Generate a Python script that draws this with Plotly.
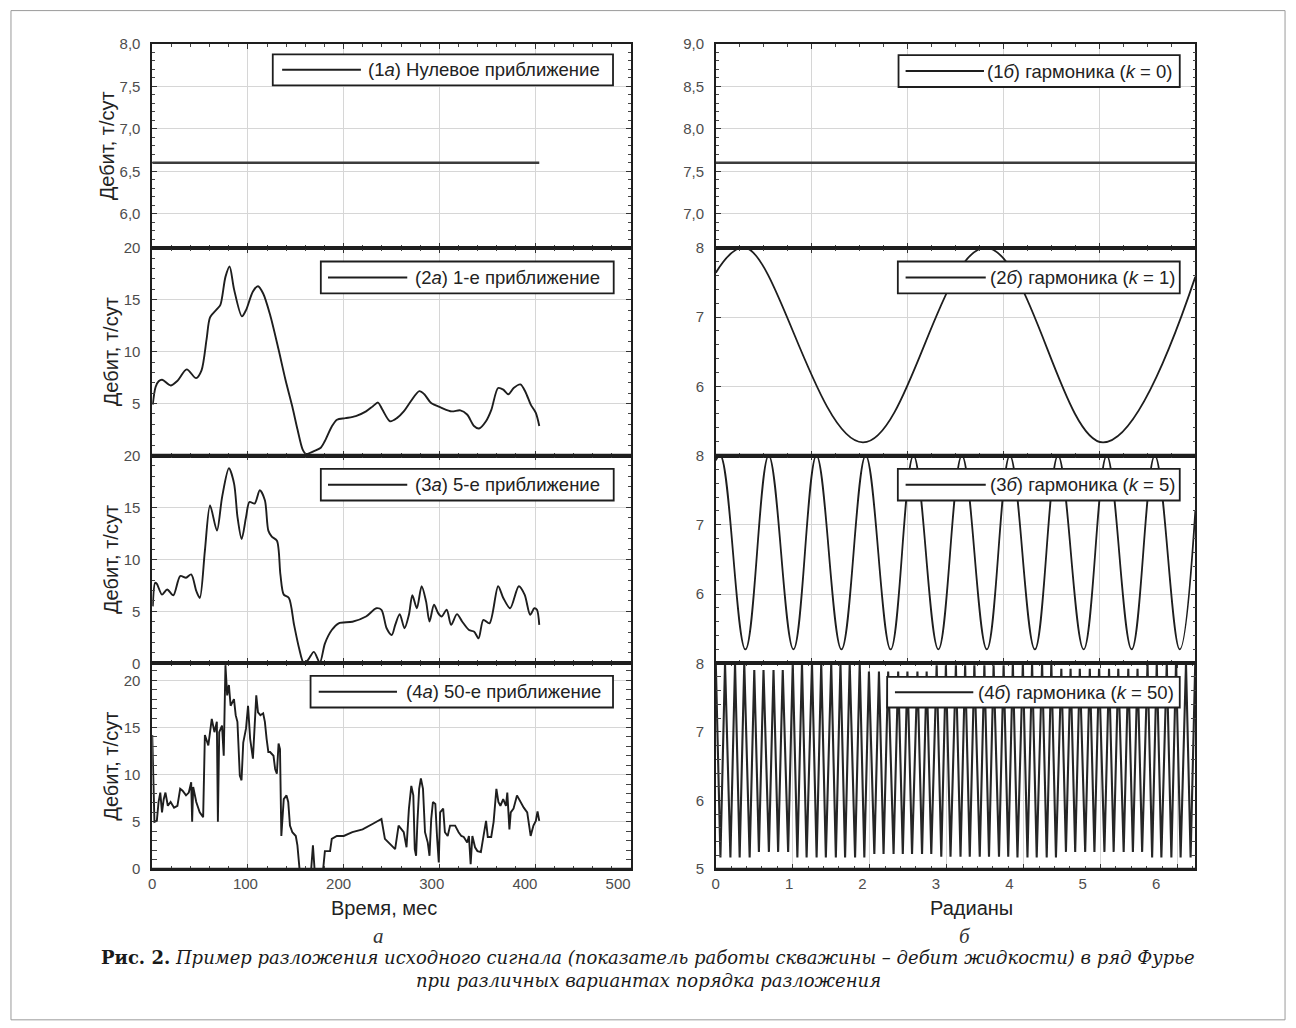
import plotly.graph_objects as go

# ---------------- data ----------------
# Left column: liquid rate (t/day) vs time (months) for successive Fourier approximations
zero_month = [0.0, 404.4]
zero_rate = [6.6, 6.6]

first_month = [0.5, 3.5, 6.7, 10.3, 19.2, 26.4, 36.0, 45.8, 51.5, 56.8,
               60.4, 67.6, 71.2, 76.5, 80.8, 85.5, 93.7, 98.0, 105.2, 110.5,
               115.9, 123.0, 132.0, 139.2, 146.4, 151.8, 157.1, 160.7, 169.7, 176.1,
               180.4, 187.6, 193.0, 201.9, 212.7, 223.4, 230.6, 235.9, 240.6, 248.5,
               255.6, 262.8, 270.0, 279.0, 284.3, 291.4, 302.2, 312.9, 321.9, 329.0,
               336.2, 341.5, 348.7, 354.3, 361.4, 366.8, 372.2, 377.6, 384.7, 390.1,
               395.5, 400.8, 404.4]
first_rate = [4.9, 6.6, 7.15, 7.3, 6.75, 7.2, 8.3, 7.45, 8.2, 11.2,
              13.3, 14.1, 14.5, 17.2, 18.2, 16.0, 13.4, 14.0, 15.8, 16.3,
              15.6, 13.6, 10.2, 7.3, 4.7, 2.5, 0.6, 0.15, 0.45, 0.75,
              1.4, 2.8, 3.45, 3.6, 3.8, 4.25, 4.75, 5.1, 4.4, 3.3,
              3.6, 4.25, 5.2, 6.2, 5.9, 5.05, 4.6, 4.25, 4.35, 3.95,
              2.85, 2.6, 3.3, 4.4, 6.5, 6.35, 5.9, 6.5, 6.85, 6.1,
              4.9, 4.1, 2.85]

fifth_month = [0.55, 3.06, 4.85, 10.2, 15.6, 22.05, 29.2, 35.3, 40.7, 46.1,
               49.7, 55.0, 60.4, 67.6, 73.0, 80.1, 85.5, 89.1, 93.4, 98.0,
               101.6, 107.0, 112.4, 117.7, 121.3, 124.9, 130.3, 133.9, 137.4, 142.8,
               148.2, 153.5, 158.2, 162.5, 168.9, 175.1, 180.4, 187.6, 194.8, 209.1,
               223.4, 234.1, 239.5, 244.9, 250.3, 253.9, 258.6, 263.6, 268.2, 271.8,
               276.5, 281.5, 286.1, 289.7, 294.4, 298.7, 302.3, 307.7, 312.3, 318.4,
               323.8, 331.0, 336.4, 341.0, 346.0, 352.4, 361.4, 366.8, 374.0, 383.0,
               389.1, 394.9, 399.2, 402.0, 404.4]
fifth_rate = [5.48, 7.75, 7.65, 6.61, 7.1, 6.55, 8.4, 8.23, 8.56, 6.94,
              6.29, 10.83, 15.2, 12.77, 16.0, 18.77, 17.3, 14.07, 11.96, 14.07,
              15.53, 15.37, 16.66, 15.69, 12.77, 12.19, 11.8, 8.56, 6.61, 6.29,
              3.7, 1.42, 0.05, 0.29, 1.1, 0.06, 1.9, 3.2, 3.85, 4.0,
              4.5, 5.3, 5.15, 3.37, 2.72, 3.7, 4.73, 3.37, 4.67, 6.55,
              5.3, 7.42, 5.96, 4.02, 5.64, 4.83, 4.5, 5.15, 3.7, 4.73,
              4.02, 3.2, 3.04, 2.4, 4.18, 3.85, 7.42, 6.29, 5.3, 7.42,
              6.61, 4.67, 5.3, 5.15, 3.7]

fifty_month = [0.0, 1.0, 2.3, 4.8, 6.6, 8.4, 10.2, 12.0, 13.8, 16.3,
               19.2, 22.8, 26.3, 29.2, 31.7, 35.3, 38.2, 40.7, 41.7, 42.8,
               46.0, 49.6, 53.2, 55.0, 58.6, 62.2, 65.0, 67.5, 68.6, 70.0,
               72.9, 74.7, 76.5, 78.3, 80.1, 81.9, 85.4, 87.2, 89.0, 91.5,
               93.3, 95.1, 98.0, 100.1, 102.3, 105.2, 107.0, 108.7, 110.5, 113.0,
               115.9, 117.7, 119.5, 121.3, 123.1, 126.7, 128.4, 130.2, 132.0, 133.5,
               134.9, 137.4, 140.3, 142.1, 143.9, 146.4, 150.0, 151.7, 153.9, 155.3,
               166.1, 167.9, 169.6, 178.6, 180.4, 185.8, 187.6, 192.9, 200.1, 209.1,
               219.8, 230.6, 239.5, 243.1, 248.5, 253.8, 257.4, 262.8, 265.7, 268.2,
               270.7, 272.8, 274.3, 275.7, 277.1, 278.9, 280.7, 282.9, 285.0, 287.9,
               289.7, 291.5, 293.3, 295.8, 297.6, 299.4, 300.8, 304.0, 305.8, 308.7,
               311.2, 316.5, 320.1, 323.0, 325.5, 329.1, 330.9, 332.7, 334.5, 337.3,
               339.8, 343.4, 346.0, 348.8, 350.6, 354.2, 356.7, 359.6, 361.7, 363.8,
               366.7, 369.6, 371.0, 373.2, 374.6, 377.5, 381.1, 384.7, 388.2, 391.8,
               395.4, 398.3, 400.8, 402.6, 404.4]
fifty_rate = [14.2, 8.5, 5.0, 5.1, 7.1, 8.1, 6.0, 7.4, 8.1, 6.7,
              7.1, 6.5, 6.7, 8.5, 8.3, 7.8, 8.1, 9.2, 5.0, 8.7,
              7.1, 6.0, 5.5, 14.2, 13.1, 15.9, 14.5, 15.6, 5.0, 14.5,
              15.2, 12.0, 21.6, 18.4, 19.5, 17.3, 18.0, 16.3, 15.6, 9.9,
              9.4, 13.4, 14.9, 17.3, 13.8, 11.7, 15.6, 18.4, 16.6, 16.3,
              16.5, 15.6, 13.8, 12.4, 12.4, 12.0, 10.6, 10.1, 13.3, 12.7,
              3.5, 7.4, 7.8, 7.1, 4.6, 3.9, 3.5, 2.5, 0.0, 0.0,
              0.0, 2.5, 0.0, 0.0, 1.9, 1.9, 3.2, 3.5, 3.5, 3.9,
              4.2, 4.8, 5.3, 3.2, 2.6, 2.1, 4.6, 3.9, 2.3, 6.4,
              8.8, 7.8, 2.1, 1.4, 5.0, 8.5, 9.6, 8.5, 3.9, 2.8,
              1.4, 5.3, 7.1, 6.9, 3.4, 0.7, 6.0, 6.4, 3.9, 3.5,
              4.6, 4.6, 3.9, 3.5, 3.4, 2.8, 3.5, 0.5, 3.5, 2.3,
              1.9, 1.8, 3.4, 5.1, 3.4, 3.4, 5.0, 8.5, 7.1, 6.7,
              7.4, 6.7, 8.1, 4.2, 6.0, 6.4, 7.8, 7.1, 6.5, 6.0,
              3.5, 4.6, 5.1, 6.1, 5.1]

month_ticks = [0, 100, 200, 300, 400, 500]
radian_ticks = [0, 1, 2, 3, 4, 5, 6]

# Right column: individual harmonics vs radians (extrema of each wave)
h0_rad = [0.0, 6.231]
h0_val = [7.6, 7.6]

h1_rad = [0.0, 0.385, 1.912, 3.508, 5.034, 6.231]
h1_val = [7.64, 8.0, 5.19, 8.0, 5.19, 7.58]

h5_peak_rad = [0.061, 0.687, 1.308, 1.948, 2.569, 3.198, 3.821, 4.447, 5.080, 5.705]
h5_peak_val = [8.0, 8.0, 8.0, 8.0, 8.0, 8.0, 8.0, 8.0, 8.0, 8.0]
h5_trough_rad = [0.385, 1.009, 1.633, 2.272, 2.892, 3.522, 4.146, 4.780, 5.404, 6.028]
h5_trough_val = [5.2, 5.2, 5.2, 5.2, 5.2, 5.2, 5.2, 5.2, 5.2, 5.2]
h5_edge_rad = [0.0, 6.231]
h5_edge_val = [7.93, 7.2]

h50_peak_rad = [0.00, 0.12, 0.25, 0.37, 0.50, 0.62, 0.75, 0.87, 1.00, 1.12,
                1.25, 1.37, 1.50, 1.62, 1.74, 1.87, 1.99, 2.12, 2.24, 2.37,
                2.49, 2.62, 2.74, 2.87, 2.99, 3.12, 3.24, 3.36, 3.49, 3.61,
                3.74, 3.86, 3.99, 4.11, 4.24, 4.36, 4.49, 4.61, 4.73, 4.86,
                4.98, 5.11, 5.23, 5.36, 5.48, 5.61, 5.73, 5.86, 5.98, 6.11,
                6.23]
h50_peak_val = [8.0, 8.0, 8.0, 8.0, 7.9, 7.9, 7.9, 7.9, 8.0, 8.0,
                8.0, 8.0, 8.0, 8.0, 8.0, 8.0, 7.88, 7.88, 7.88, 7.88,
                7.88, 7.88, 7.88, 7.97, 7.97, 7.97, 7.97, 7.97, 7.97, 7.97,
                7.97, 8.0, 8.0, 8.0, 8.0, 8.0, 7.92, 7.92, 7.92, 7.92,
                7.92, 7.92, 7.92, 7.92, 7.92, 8.0, 8.0, 8.0, 8.0, 8.0,
                8.0]
h50_trough_rad = [0.06, 0.19, 0.31, 0.44, 0.56, 0.69, 0.81, 0.94, 1.06, 1.18,
                  1.31, 1.43, 1.56, 1.68, 1.81, 1.93, 2.06, 2.18, 2.31, 2.43,
                  2.55, 2.68, 2.80, 2.93, 3.05, 3.18, 3.30, 3.43, 3.55, 3.68,
                  3.80, 3.92, 4.05, 4.17, 4.30, 4.42, 4.55, 4.67, 4.80, 4.92,
                  5.05, 5.17, 5.30, 5.42, 5.54, 5.67, 5.79, 5.92, 6.04, 6.17]
h50_trough_val = [5.17, 5.17, 5.17, 5.17, 5.25, 5.25, 5.25, 5.25, 5.17, 5.17,
                  5.17, 5.17, 5.17, 5.17, 5.17, 5.17, 5.22, 5.22, 5.22, 5.22,
                  5.22, 5.22, 5.22, 5.18, 5.18, 5.18, 5.18, 5.18, 5.18, 5.18,
                  5.18, 5.17, 5.17, 5.17, 5.17, 5.17, 5.25, 5.25, 5.25, 5.25,
                  5.25, 5.25, 5.25, 5.25, 5.25, 5.17, 5.17, 5.17, 5.17, 5.17]

legend_left = ["(1<i>а</i>) Нулевое приближение",
               "(2<i>а</i>) 1-е приближение",
               "(3<i>а</i>) 5-е приближение",
               "(4<i>а</i>) 50-е приближение"]
legend_right = ["(1<i>б</i>) гармоника (<i>k</i> = 0)",
                "(2<i>б</i>) гармоника (<i>k</i> = 1)",
                "(3<i>б</i>) гармоника (<i>k</i> = 5)",
                "(4<i>б</i>) гармоника (<i>k</i> = 50)"]


def interleave(a_x, a_y, b_x, b_y):
    xs, ys = [], []
    for i in range(len(a_x)):
        xs.append(a_x[i]); ys.append(a_y[i])
        if i < len(b_x):
            xs.append(b_x[i]); ys.append(b_y[i])
    return xs, ys


h5_x, h5_y = interleave(h5_peak_rad, h5_peak_val, h5_trough_rad, h5_trough_val)
h5_x = [h5_edge_rad[0]] + h5_x + [h5_edge_rad[1]]
h5_y = [h5_edge_val[0]] + h5_y + [h5_edge_val[1]]
h50_x, h50_y = interleave(h50_peak_rad, h50_peak_val, h50_trough_rad, h50_trough_val)

# ---------------- layout geometry ----------------
# Positions below are given in page pixels; fx/fy convert them to paper
# fractions, allowing for the page's top offset and vertical fit.
W, H = 1296, 1028
TOP_OFFSET, V_FIT, LEFT_OFFSET = 7.9, 0.9847, 2.0
ROW_TOP = [42.7, 247, 455, 663]
ROW_BOT = [247, 455, 663, 869]
COL_X = [(150.7, 630.7), (716, 1197)]


def fx(px):
    return (px - LEFT_OFFSET) / W


def fy(py):
    return 1 - ((py - TOP_OFFSET) / V_FIT) / H


INK = "#1e1e1e"
GRID = "#d6d6d6"
TICK_FONT = dict(family="Liberation Sans Narrow, Arial Narrow, Liberation Sans, Arial",
                 size=15, color="#4d4d4d")
SANS = "Liberation Sans, Arial, sans-serif"
SERIF = "DejaVu Serif, Liberation Serif, serif"

fig = go.Figure()

left_series = [
    (zero_month, zero_rate, "linear", 2.6, "#3c3c3c"),
    (first_month, first_rate, "spline", 1.9, INK),
    (fifth_month, fifth_rate, "spline", 1.9, INK),
    (fifty_month, fifty_rate, "linear", 1.9, INK),
]
right_series = [
    (h0_rad, h0_val, "linear", 2.6, "#3c3c3c"),
    (h1_rad, h1_val, "spline", 1.8, INK),
    (h5_x, h5_y, "spline", 1.8, INK),
    (h50_x, h50_y, "linear", 2.1, "#262626"),
]

for r, (xs, ys, shape, w, col) in enumerate(left_series):
    n = r + 1
    fig.add_trace(go.Scatter(x=xs, y=ys, mode="lines", name=legend_left[r],
                             line=dict(color=col, width=w, shape=shape, smoothing=0.8),
                             xaxis=f"x{n}", yaxis=f"y{n}", showlegend=False,
                             hoverinfo="skip"))
for r, (xs, ys, shape, w, col) in enumerate(right_series):
    n = r + 5
    fig.add_trace(go.Scatter(x=xs, y=ys, mode="lines", name=legend_right[r],
                             line=dict(color=col, width=w, shape=shape, smoothing=1.1),
                             xaxis=f"x{n}", yaxis=f"y{n}", showlegend=False,
                             hoverinfo="skip"))

# empty traces that carry the bottom label axes
fig.add_trace(go.Scatter(x=[], y=[], xaxis="x9", yaxis="y4", showlegend=False))
fig.add_trace(go.Scatter(x=[], y=[], xaxis="x10", yaxis="y8", showlegend=False))

layout = dict(width=W, height=H, autosize=False,
              margin=dict(l=0, r=0, t=0, b=0),
              paper_bgcolor="white", plot_bgcolor="white",
              separators=", ", showlegend=False,
              font=dict(family=SANS, color="#222222"))

base_axis = dict(showline=True, linewidth=1.6, linecolor=INK, mirror="allticks",
                 ticks="inside", ticklen=5, tickwidth=1, tickcolor="#333333",
                 showgrid=True, gridcolor=GRID, gridwidth=1, zeroline=False,
                 tickfont=TICK_FONT)

left_y = [
    dict(range=[5.6, 8.0], tickvals=[6.0, 6.5, 7.0, 7.5, 8.0], tickformat=".1f", minor_dtick=0.1),
    dict(range=[0, 20], tickvals=[5, 10, 15, 20], tickformat="d", minor_dtick=1),
    dict(range=[0, 20], tickvals=[0, 5, 10, 15, 20], tickformat="d", minor_dtick=1),
    dict(range=[0, 21.8], tickvals=[0, 5, 10, 15, 20], tickformat="d", minor_dtick=1),
]
right_y = [
    dict(range=[6.6, 9.0], tickvals=[7.0, 7.5, 8.0, 8.5, 9.0], tickformat=".1f", minor_dtick=0.1),
    dict(range=[5, 8], tickvals=[6, 7, 8], tickformat="d", minor_dtick=0.2),
    dict(range=[5, 8], tickvals=[6, 7, 8], tickformat="d", minor_dtick=0.2),
    dict(range=[5, 8], tickvals=[5, 6, 7, 8], tickformat="d", minor_dtick=0.2),
]

for c in range(2):
    x0, x1 = COL_X[c]
    for r in range(4):
        n = c * 4 + r + 1
        xa = dict(base_axis, domain=[fx(x0), fx(x1)], anchor=f"y{n}",
                  showticklabels=False)
        if c == 0:
            xa.update(range=[0, 500], tick0=0, dtick=100,
                      minor=dict(ticks="inside", ticklen=3, dtick=20, tickcolor="#444", showgrid=False))
        elif r < 3:
            xa.update(range=[0, 6.231], tick0=0, dtick=1.2462,
                      minor=dict(ticks="inside", ticklen=3, dtick=0.31155, tickcolor="#444", showgrid=False))
        else:
            xa.update(range=[0, 6.231], tick0=0, dtick=1,
                      minor=dict(ticks="inside", ticklen=3, dtick=0.2, tickcolor="#444", showgrid=False))
        layout[f"xaxis{n}"] = xa

        spec = (left_y if c == 0 else right_y)[r]
        ya = dict(base_axis, domain=[fy(ROW_BOT[r]), fy(ROW_TOP[r])], anchor=f"x{n}",
                  range=spec["range"], tickvals=spec["tickvals"], tickformat=spec["tickformat"],
                  ticklabelstandoff=7,
                  minor=dict(ticks="inside", ticklen=3, dtick=spec["minor_dtick"],
                             tickcolor="#444", showgrid=False))
        if c == 0:
            ya["title"] = dict(text="Дебит, т/сут", standoff=0,
                               font=dict(family=SANS, size=20, color="#222222"))
        layout[f"yaxis{n}"] = ya

label_axis = dict(showline=False, showgrid=False, zeroline=False, ticks="",
                  tickfont=TICK_FONT, side="bottom", ticklabelstandoff=4)
layout["xaxis9"] = dict(label_axis, overlaying="x4", anchor="y4",
                        domain=[fx(COL_X[0][0]), fx(COL_X[0][1])],
                        range=[0, 513.6], tickvals=month_ticks)
layout["xaxis10"] = dict(label_axis, overlaying="x8", anchor="y8",
                         domain=[fx(COL_X[1][0]), fx(COL_X[1][1])],
                         range=[0, 6.535], tickvals=radian_ticks)

shapes = []
annotations = []

# outer frame of the figure
shapes.append(dict(type="rect", xref="paper", yref="paper",
                   x0=fx(9), x1=fx(1287), y0=fy(1020), y1=fy(9.5),
                   line=dict(color="#9a9a9a", width=1), layer="below"))

# heavy separators between stacked panels
for c in range(2):
    x0, x1 = COL_X[c]
    for py in ROW_BOT[:3]:
        shapes.append(dict(type="line", xref="paper", yref="paper",
                           x0=fx(x0 - 1), x1=fx(x1 + 1), y0=fy(py), y1=fy(py),
                           line=dict(color=INK, width=3.5), layer="above"))
    shapes.append(dict(type="line", xref="paper", yref="paper",
                       x0=fx(x0 - 1), x1=fx(x1 + 1), y0=fy(ROW_BOT[3]), y1=fy(ROW_BOT[3]),
                       line=dict(color=INK, width=2.6), layer="above"))

# legend boxes: (box x0, box x1, box y0, box y1, sample x0, sample x1, text x)
legend_boxes = [
    (271.6, 612.9, 53.3, 84.3, 281, 360, 365),
    (319.8, 613.6, 260.7, 292.7, 327, 406.5, 412),
    (319.8, 613.6, 468.3, 500.0, 327, 406.5, 412),
    (309.5, 612.9, 675.7, 707.3, 317.7, 396.2, 403),
    (899.3, 1181.4, 54.0, 86.0, 906.4, 985.0, 986),
    (898.6, 1181.4, 260.7, 292.7, 906.4, 986.8, 989),
    (898.6, 1181.4, 468.3, 500.0, 906.4, 986.8, 989),
    (887.9, 1181.4, 676.7, 707.3, 895.7, 974.3, 977),
]
legend_labels = legend_left + legend_right
for (bx0, bx1, by0, by1, lx0, lx1, tx), label in zip(legend_boxes, legend_labels):
    ym = (by0 + by1) / 2
    shapes.append(dict(type="rect", xref="paper", yref="paper",
                       x0=fx(bx0), x1=fx(bx1), y0=fy(by1), y1=fy(by0),
                       fillcolor="white", line=dict(color=INK, width=1.8), layer="above"))
    shapes.append(dict(type="line", xref="paper", yref="paper",
                       x0=fx(lx0), x1=fx(lx1), y0=fy(ym), y1=fy(ym),
                       line=dict(color=INK, width=2), layer="above"))
    annotations.append(dict(xref="paper", yref="paper", x=fx(tx), y=fy(ym),
                            xanchor="left", yanchor="middle", showarrow=False,
                            text=label, font=dict(family=SANS, size=18.5, color="#222222")))

# x-axis titles
annotations.append(dict(xref="paper", yref="paper", x=fx(383), y=fy(908),
                        xanchor="center", yanchor="middle", showarrow=False,
                        text="Время, мес", font=dict(family=SANS, size=20, color="#222222")))
annotations.append(dict(xref="paper", yref="paper", x=fx(972), y=fy(908),
                        xanchor="center", yanchor="middle", showarrow=False,
                        text="Радианы", font=dict(family=SANS, size=20, color="#222222")))

# column letters
annotations.append(dict(xref="paper", yref="paper", x=fx(378), y=fy(936),
                        xanchor="center", yanchor="middle", showarrow=False,
                        text="<i>а</i>", font=dict(family="Liberation Serif, serif", size=21, color="#333333")))
annotations.append(dict(xref="paper", yref="paper", x=fx(966), y=fy(936),
                        xanchor="center", yanchor="middle", showarrow=False,
                        text="<i>б</i>", font=dict(family="Liberation Serif, serif", size=21, color="#333333")))

# caption
annotations.append(dict(xref="paper", yref="paper", x=fx(648), y=fy(958),
                        xanchor="center", yanchor="middle", showarrow=False,
                        text="<b>Рис. 2.</b> <i>Пример разложения исходного сигнала (показатель работы "
                             "скважины – дебит жидкости) в ряд Фурье</i>",
                        font=dict(family=SERIF, size=18, color="#1a1a1a")))
annotations.append(dict(xref="paper", yref="paper", x=fx(648), y=fy(981),
                        xanchor="center", yanchor="middle", showarrow=False,
                        text="<i>при различных вариантах порядка разложения</i>",
                        font=dict(family=SERIF, size=18, color="#1a1a1a")))

layout["shapes"] = shapes
layout["annotations"] = annotations
fig.update_layout(**layout)

fig.write_html("out.html")
